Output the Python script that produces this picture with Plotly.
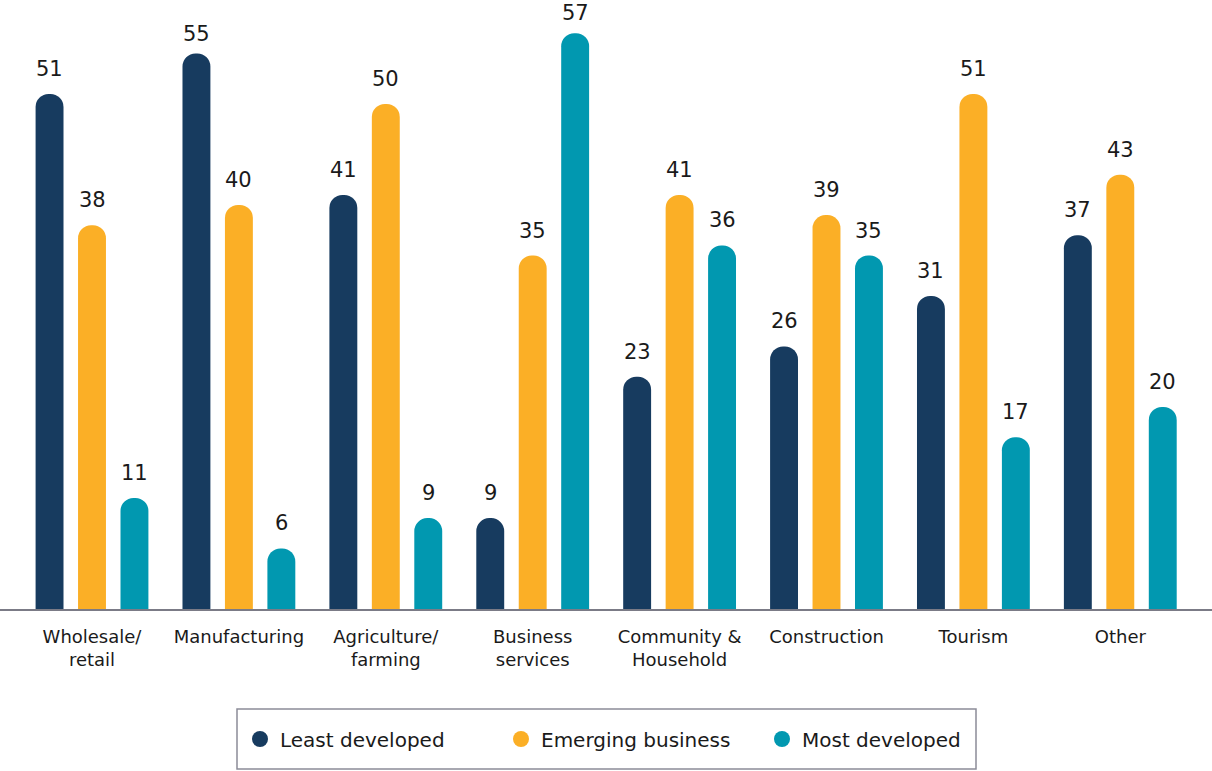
import plotly.graph_objects as go

# Sectors and share of businesses (%) by development stage
categories = ["Wholesale/<br>retail", "Manufacturing", "Agriculture/<br>farming",
              "Business<br>services", "Community &<br>Household", "Construction",
              "Tourism", "Other"]
series_names = ["Least developed", "Emerging business", "Most developed"]
least_developed = [51, 55, 41, 9, 23, 26, 31, 37]
emerging_business = [38, 40, 50, 35, 41, 39, 51, 43]
most_developed = [11, 6, 9, 57, 36, 35, 17, 20]

colors = ["#173B5F", "#FBAF26", "#0198B0"]
values = [least_developed, emerging_business, most_developed]

W, H = 1212, 771
plot_bottom = 609
px_per_unit = 10.1
bar_w = 0.19
step = 0.289

x_pos = list(range(len(categories)))
fig = go.Figure()
for k, (name, vals, col) in enumerate(zip(series_names, values, colors)):
    fig.add_trace(go.Bar(
        x=x_pos, y=vals, name=name, showlegend=False,
        width=bar_w, offset=(k - 1) * step - bar_w / 2,
        marker=dict(color=col, line=dict(width=0), cornerradius=14),
    ))
    # legend entry with a round swatch
    fig.add_trace(go.Scatter(
        x=[None], y=[None], mode="markers", name=name,
        marker=dict(symbol="circle", size=17, color=col),
    ))
    for i, v in enumerate(vals):
        # tallest bars get their labels tucked closer so they stay on the page
        shift = 6 if v >= 55 else 11
        fig.add_annotation(
            x=i + (k - 1) * step, y=v, text=str(v), showarrow=False,
            xref="x", yref="y", yanchor="bottom", yshift=shift,
            font=dict(family="DejaVu Sans", size=21, color="#1a1a1a"),
        )

# Legend frame
fig.add_shape(
    type="rect", xref="paper", yref="paper",
    x0=237 / W, x1=976 / W,
    y0=-(769 - plot_bottom) / plot_bottom, y1=-(709 - plot_bottom) / plot_bottom,
    line=dict(color="#8c8c98", width=1.5), fillcolor="rgba(0,0,0,0)",
)

fig.update_layout(
    width=W, height=H,
    margin=dict(l=0, r=0, t=0, b=H - plot_bottom),
    paper_bgcolor="white", plot_bgcolor="white",
    barmode="overlay",
    showlegend=True,
    legend=dict(
        orientation="h", x=240 / W, xanchor="left",
        y=-(739 - plot_bottom) / plot_bottom, yanchor="middle",
        entrywidth=216, entrywidthmode="pixels",
        font=dict(family="DejaVu Sans", size=20, color="#1a1a1a"),
        bgcolor="rgba(0,0,0,0)", borderwidth=0,
    ),
    xaxis=dict(
        range=[-92 / 146.9, (W - 92) / 146.9],
        tickmode="array", tickvals=x_pos, ticktext=categories,
        showgrid=False, zeroline=False, ticks="",
        showline=True, linecolor="#7b7b86", linewidth=2,
        tickfont=dict(family="DejaVu Sans", size=18, color="#1a1a1a"),
        ticklabelstandoff=10, fixedrange=True,
    ),
    yaxis=dict(
        range=[0, plot_bottom / px_per_unit], visible=False,
        showgrid=False, zeroline=False, fixedrange=True,
    ),
)

fig.write_html("out.html")
